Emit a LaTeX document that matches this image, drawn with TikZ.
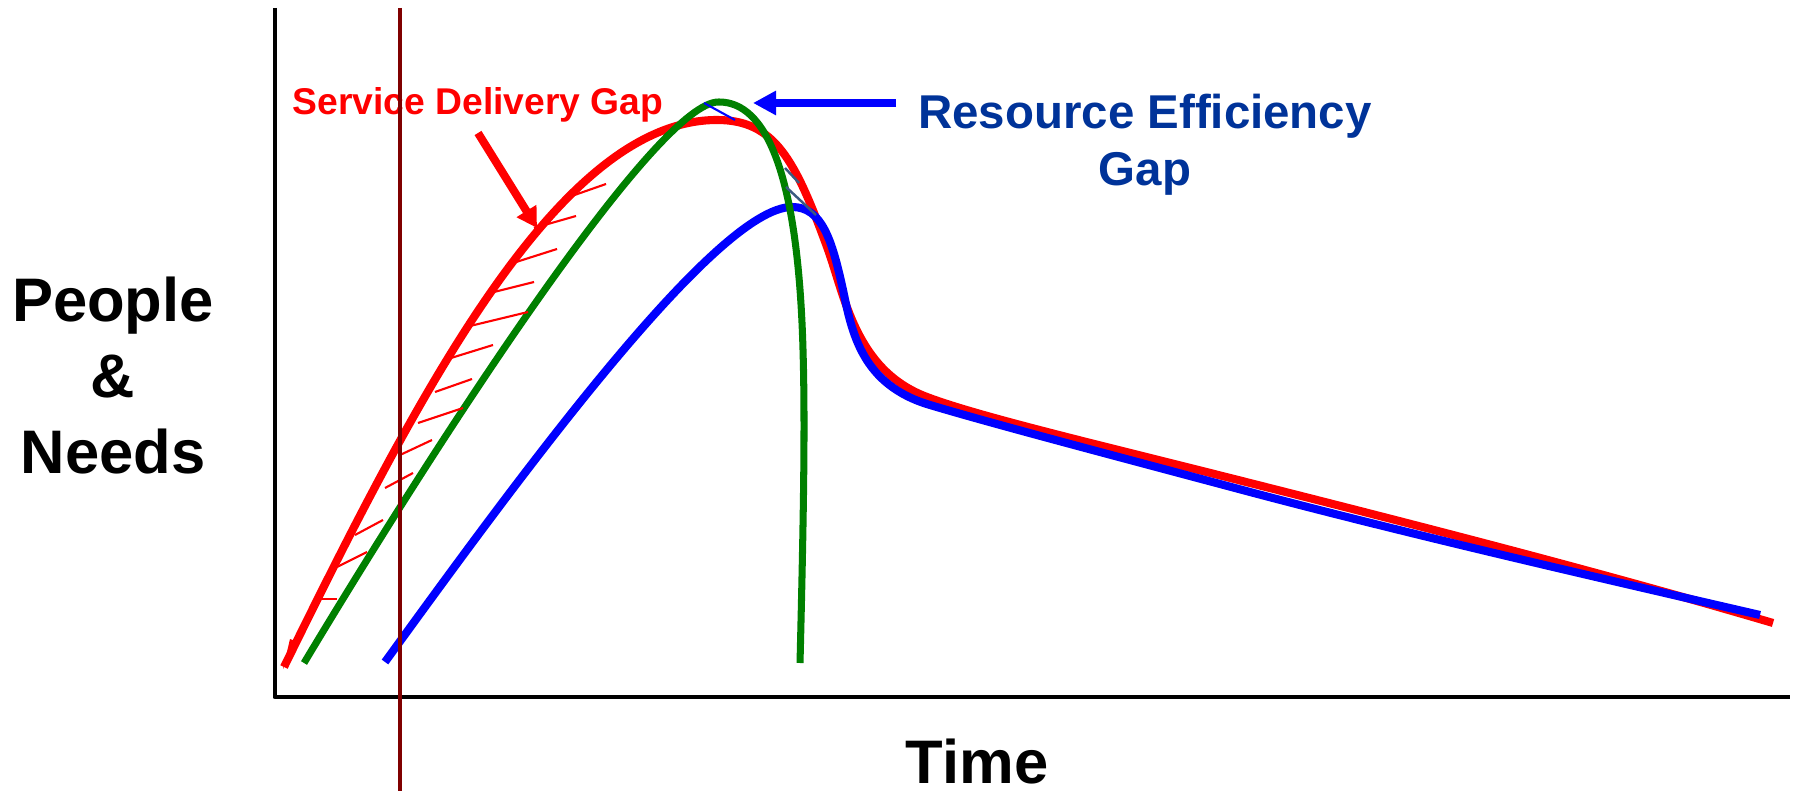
\documentclass[tikz,border=0pt]{standalone}
\usepackage{fontspec}
\setmainfont{Liberation Sans}
\usepackage{tikz}
\usetikzlibrary{arrows.meta}
\definecolor{lifered}{HTML}{FF0000}
\definecolor{lifeblue}{HTML}{0000FF}
\definecolor{lifegreen}{HTML}{008000}
\definecolor{markmaroon}{HTML}{800000}
\definecolor{gapblue}{HTML}{003399}
\definecolor{hatchslate}{HTML}{3A5A80}

\begin{document}
\begin{tikzpicture}[x=0.1mm, y=-0.1mm, line join=round]
\useasboundingbox (0,0) rectangle (1798,791);
%%%%% Axis %%%%%
\draw[line width=1.4pt] (275,8)--(275,697)--(1790,697);
%%%%% Curves %%%%%
\draw[color=lifered, line width=2.3pt] (284,667) .. controls (420,390) and (560,120) .. (717,120)
  .. controls (775,120) and (795,160) .. (827,247)
  .. controls (845,296) and (855,370) .. (927,397)
  .. controls (980,417) and (1100,445) .. (1250,483)
  .. controls (1420,526) and (1600,572) .. (1773,623);
\fill[color=lifered] (283,669)--(290,639)--(298,642)--cycle;
\draw[color=lifeblue, line width=2.3pt] (385,662) .. controls (510,490) and (715,207) .. (792,207)
  .. controls (822,207) and (832,240) .. (843,290)
  .. controls (852,333) and (862,385) .. (930,405)
  .. controls (990,423) and (1100,452) .. (1250,492)
  .. controls (1420,537) and (1600,578) .. (1760,615);
\draw[color=lifegreen, line width=2pt] (304,663) .. controls (450,420) and (660,100) .. (719,102)
  .. controls (765,102) and (798,170) .. (803,350)
  .. controls (805,420) and (804,500) .. (800,663);
%%%%% Gaps %%%%%
\foreach \xa/\ya/\xb/\yb in {320/599/337/599, 337/567/367/552, 355/535/383/520, 385/488/413/473, 400/455/432/440, 418/423/463/408, 435/392/472/379, 451/358/493/345, 470/326/528/312, 490/293/534/282, 513/263/557/249, 534/228/576/216, 566/198/606/184}{
\draw[color=lifered, line width=0.6pt] (\xa,\ya)--(\xb,\yb);
}
\draw[color=lifeblue, line width=0.6pt] (704,103)--(735,120);
\foreach \xa/\ya/\xb/\yb in {785/168/799/183, 786/187/816/215}{
\draw[color=hatchslate, line width=0.7pt] (\xa,\ya)--(\xb,\yb);
}
%%%%% Labels %%%%%
\node[font=\fontsize{10.6}{12}\selectfont\bfseries, text=lifered, anchor=base, inner sep=0] (sdglabel) at (478,115) {Service Delivery Gap};
\node[font=\fontsize{13.5}{16.2}\selectfont\bfseries, text=gapblue, align=center, anchor=north, inner sep=0] (reglabel) at (1145,93) {Resource Efficiency\\Gap};
\node[font=\fontsize{17.5}{21.6}\selectfont\bfseries, align=center, anchor=north, inner sep=0] (ylabel) at (113,276) {People\\\&\\Needs};
\node[font=\fontsize{17.5}{21}\selectfont\bfseries, anchor=base, inner sep=0] (xlabel) at (977,783) {Time};
%%%%% Arrows %%%%%
\coordinate (sdgtail) at (478,133);
\coordinate (sdgtip) at (537,228);
\coordinate (regtail) at (896,103);
\coordinate (regtip) at (753,103);
\draw[color=lifered, line width=2.3pt, -{Triangle[length=2mm, width=2.2mm]}] (sdgtail)--(sdgtip);
\draw[color=lifeblue, line width=2.3pt, -{Triangle[length=2.3mm, width=2.3mm]}] (regtail)--(regtip);
%%%%% Marker %%%%%
\draw[color=markmaroon, line width=1.1pt] (400,8)--(400,791);
\end{tikzpicture}
\end{document}
